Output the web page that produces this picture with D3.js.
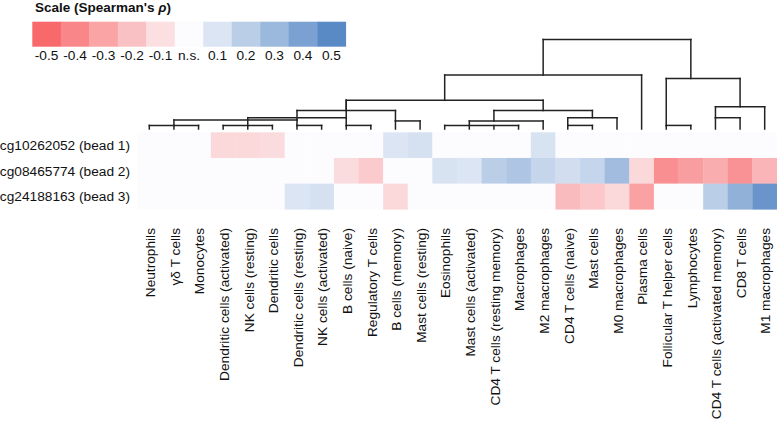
<!DOCTYPE html>
<html><head><meta charset="utf-8">
<script src="https://cdn.jsdelivr.net/npm/d3@7"></script>
<style>
body{margin:0;background:#fff}
svg{display:block}
text{font-family:"Liberation Sans",Arial,Helvetica,sans-serif;fill:#111}
</style>
</head><body>
<svg id="chart" width="777" height="421"></svg>
<script>
// ---------- data ----------
const cellTypes = [
  "Neutrophils","γδ T cells","Monocytes","Dendritic cells (activated)","NK cells (resting)",
  "Dendritic cells","Dendritic cells (resting)","NK cells (activated)","B cells (naive)",
  "Regulatory T cells","B cells (memory)","Mast cells (resting)","Eosinophils",
  "Mast cells (activated)","CD4 T cells (resting memory)","Macrophages","M2 macrophages",
  "CD4 T cells (naive)","Mast cells","M0 macrophages","Plasma cells","Follicular T helper cells",
  "Lymphocytes","CD4 T cells (activated memory)","CD8 T cells","M1 macrophages"
];
const probes = ["cg10262052 (bead 1)","cg08465774 (bead 2)","cg24188163 (bead 3)"];
// Spearman's rho per cell type (null = n.s.)
const rhoBead1 = [null,null,null,-0.12,-0.12,-0.11,null,null,null,null,0.10,0.12,null,null,null,null,0.11,null,null,null,null,null,null,null,null,null];
const rhoBead2 = [null,null,null,null,null,null,null,null,-0.11,-0.17,null,null,0.11,0.10,0.20,0.24,0.17,0.13,0.17,0.28,-0.12,-0.37,-0.32,-0.27,-0.36,-0.24];
const rhoBead3 = [null,null,null,null,null,null,0.10,0.12,null,null,-0.12,null,null,null,null,null,null,-0.22,-0.18,-0.12,-0.31,null,null,0.20,0.33,0.45];
const legendLabels = ["-0.5","-0.4","-0.3","-0.2","-0.1","n.s.","0.1","0.2","0.3","0.4","0.5"];
const legendValues = [-0.5,-0.4,-0.3,-0.2,-0.1,0,0.1,0.2,0.3,0.4,0.5];
// dendrogram merges: children (cell types or merge ids), merge height, anchor leaf of the node
const merges = [
  {id:"a", children:["Neutrophils","γδ T cells","Monocytes"], height:4, anchor:"γδ T cells"},
  {id:"b", children:["Dendritic cells (activated)","NK cells (resting)","Dendritic cells"], height:4, anchor:"NK cells (resting)"},
  {id:"c", children:["Dendritic cells (resting)","NK cells (activated)"], height:4, anchor:"Dendritic cells (resting)"},
  {id:"d", children:["B cells (naive)","Regulatory T cells"], height:4, anchor:"B cells (naive)"},
  {id:"e", children:["B cells (memory)","Mast cells (resting)"], height:9, anchor:"B cells (memory)"},
  {id:"f", children:["Eosinophils","Mast cells (activated)","CD4 T cells (resting memory)","Macrophages"], height:4, anchor:"Mast cells (activated)"},
  {id:"g", children:["f","M2 macrophages"], height:9, anchor:"CD4 T cells (resting memory)"},
  {id:"h", children:["CD4 T cells (naive)","Mast cells"], height:4, anchor:"CD4 T cells (naive)"},
  {id:"i", children:["h","M0 macrophages"], height:12.6, anchor:"Mast cells"},
  {id:"j", children:["g","i"], height:20.7, anchor:"M2 macrophages"},
  {id:"k", children:["a","c"], height:10, anchor:"Dendritic cells (resting)"},
  {id:"l", children:["b","d"], height:12.6, anchor:"B cells (naive)"},
  {id:"m", children:["k","e"], height:20.7, anchor:"B cells (naive)"},
  {id:"n", children:["l","m","j"], height:32, anchor:"Eosinophils"},
  {id:"o", children:["n","Plasma cells"], height:60.3, anchor:"M2 macrophages"},
  {id:"p", children:["Follicular T helper cells","Lymphocytes"], height:4, anchor:"Follicular T helper cells"},
  {id:"q", children:["CD4 T cells (activated memory)","CD8 T cells"], height:12.6, anchor:"CD4 T cells (activated memory)"},
  {id:"r", children:["q","M1 macrophages"], height:24.9, anchor:"CD8 T cells"},
  {id:"s", children:["p","r"], height:56.4, anchor:"Lymphocytes"},
  {id:"root", children:["o","s"], height:100, anchor:"Plasma cells"}
];

// ---------- drawing ----------
const svg = d3.select("#chart");
const color = d3.scaleLinear().domain([-0.5,0,0.5]).range(["#F8696B","#FCFCFF","#5A8AC6"]);
const ns = "#FCFCFF";
const FS = "13.7px";

// legend
svg.append("text").attr("x",35).attr("y",11.5).style("font-size","13.5px").style("font-weight","bold")
  .text("Scale (Spearman's ")
  .append("tspan").style("font-style","italic").text("ρ");
svg.select("text").append("tspan").text(")");

const lx = d3.scaleBand().domain(legendLabels).range([32.3,345.7]);
const lg = svg.append("g");
lg.selectAll("rect").data(legendLabels).join("rect")
  .attr("x",d=>lx(d)).attr("y",21.7).attr("width",lx.bandwidth()+0.4).attr("height",25)
  .attr("fill",(d,i)=>legendValues[i]===0?ns:color(legendValues[i]));
lg.selectAll("text").data(legendLabels).join("text")
  .attr("x",d=>lx(d)+lx.bandwidth()/2).attr("y",60).attr("text-anchor","middle")
  .style("font-size",FS).text(d=>d);

// heatmap
const x = d3.scaleBand().domain(cellTypes).range([137,777]);
const y = d3.scaleBand().domain(probes).range([132.3,209.3]);
const rows = [rhoBead1,rhoBead2,rhoBead3];
const cells = [];
rows.forEach((r,ri)=>r.forEach((v,ci)=>cells.push({probe:probes[ri],type:cellTypes[ci],v})));
svg.append("g").selectAll("rect").data(cells).join("rect")
  .attr("x",d=>x(d.type)).attr("y",d=>y(d.probe))
  .attr("width",x.bandwidth()+0.3).attr("height",y.bandwidth()+0.3)
  .attr("fill",d=>d.v===null?ns:color(d.v));

// row labels
svg.append("g").selectAll("text").data(probes).join("text")
  .attr("x",130).attr("y",d=>y(d)+y.bandwidth()/2).attr("dy","0.35em")
  .attr("text-anchor","end").style("font-size",FS).text(d=>d);

// column labels
svg.append("g").selectAll("text").data(cellTypes).join("text")
  .attr("transform",d=>`translate(${x(d)+x.bandwidth()/2},228) rotate(-90)`)
  .attr("dy","0.42em").attr("text-anchor","end").style("font-size",FS).text(d=>d);

// dendrogram
const h = d3.scaleLinear().domain([0,100]).range([129,39.5]);
const nodes = new Map();
cellTypes.forEach(t=>nodes.set(t,{pos:x(t)+x.bandwidth()/2,height:0}));
merges.forEach(m=>nodes.set(m.id,{pos:x(m.anchor)+x.bandwidth()/2,height:m.height}));
const segs = [];
merges.forEach(m=>{
  const kids = m.children.map(c=>nodes.get(c));
  const xs = kids.map(k=>k.pos);
  segs.push([d3.min(xs),h(m.height),d3.max(xs),h(m.height)]);
  kids.forEach(k=>segs.push([k.pos,h(k.height),k.pos,h(m.height)]));
});
svg.append("g").selectAll("line").data(segs).join("line")
  .attr("x1",d=>d[0]).attr("y1",d=>d[1]).attr("x2",d=>d[2]).attr("y2",d=>d[3])
  .attr("stroke","#222").attr("stroke-width",1.5).attr("stroke-linecap","square");
</script>
</body></html>
